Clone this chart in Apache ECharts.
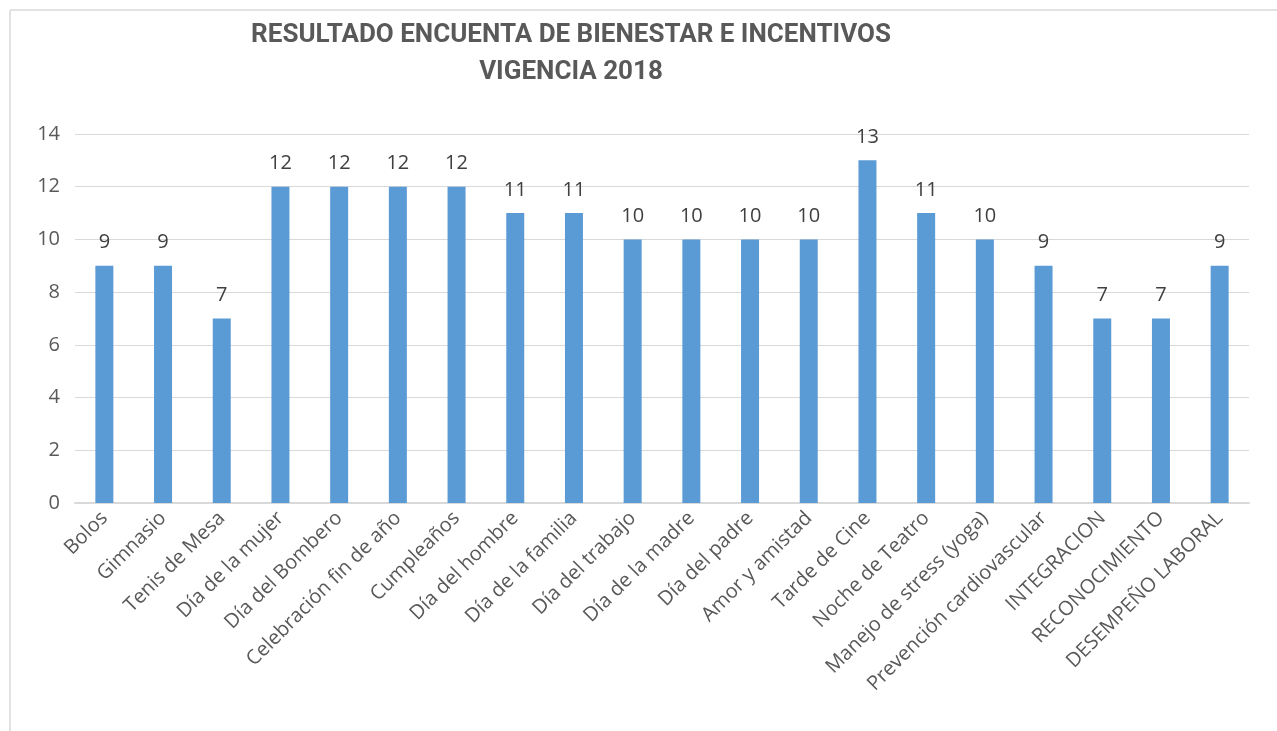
<!DOCTYPE html>
<html>
<head>
<meta charset="utf-8">
<script src="https://cdn.jsdelivr.net/npm/echarts@6/dist/echarts.min.js"></script>
<style>
  html, body { margin: 0; padding: 0; background: #fff; }
  #chart { width: 1277px; height: 731px; }
</style>
</head>
<body>
<div id="chart"></div>
<script>
// categorías y resultados de la encuesta
const categorias = [
  "Bolos", "Gimnasio", "Tenis de Mesa", "Día de la mujer", "Día del Bombero",
  "Celebración fin de año", "Cumpleaños", "Día del hombre", "Día de la familia",
  "Día del trabajo", "Día de la madre", "Día del padre", "Amor y amistad",
  "Tarde de Cine", "Noche de Teatro", "Manejo de stress (yoga)",
  "Prevención cardiovascular", "INTEGRACION", "RECONOCIMIENTO", "DESEMPEÑO LABORAL"
];
const valores = [9, 9, 7, 12, 12, 12, 12, 11, 11, 10, 10, 10, 10, 13, 11, 10, 9, 7, 7, 9];
const titulo = "RESULTADO ENCUENTA DE BIENESTAR E INCENTIVOS\nVIGENCIA 2018";

let myChart = echarts.init(document.getElementById("chart"));
let options = {
  backgroundColor: "#fff",
  animation: false,
  title: {
    text: titulo,
    left: 566,
    top: 12,
    textAlign: "center",
    textStyle: {
      color: "#595959",
      fontFamily: "Roboto",
      fontWeight: "bold",
      fontSize: 26,
      lineHeight: 37,
    },
  },
  // borde del gráfico (solo arriba e izquierda visibles)
  graphic: [
    { type: "line", shape: { x1: 10, y1: 10, x2: 1277, y2: 10 }, style: { stroke: "#d9d9d9", lineWidth: 1.5 } },
    { type: "line", shape: { x1: 10, y1: 10, x2: 10, y2: 731 }, style: { stroke: "#d9d9d9", lineWidth: 1.5 } },
  ],
  grid: { left: 75, right: 28, top: 134, bottom: 228 },
  xAxis: {
    type: "category",
    data: categorias,
    axisLine: { lineStyle: { color: "#d9d9d9", width: 2 } },
    axisTick: { show: false },
    axisLabel: {
      interval: 0,
      rotate: 45,
      margin: 12,
      color: "#595959",
      fontFamily: "Open Sans",
      fontSize: 20,
    },
  },
  yAxis: {
    type: "value",
    min: 0,
    max: 14,
    interval: 2,
    axisLine: { show: false },
    axisTick: { show: false },
    splitLine: { lineStyle: { color: "#d9d9d9", width: 1 } },
    axisLabel: {
      margin: 15,
      color: "#595959",
      fontFamily: "Open Sans",
      fontSize: 20,
    },
  },
  series: [
    {
      type: "bar",
      data: valores,
      barWidth: 18,
      itemStyle: { color: "#5b9bd5" },
      label: {
        show: true,
        position: "top",
        distance: 13,
        color: "#404040",
        fontFamily: "Open Sans",
        fontSize: 20,
      },
    },
  ],
};
myChart.setOption(options);
</script>
</body>
</html>
